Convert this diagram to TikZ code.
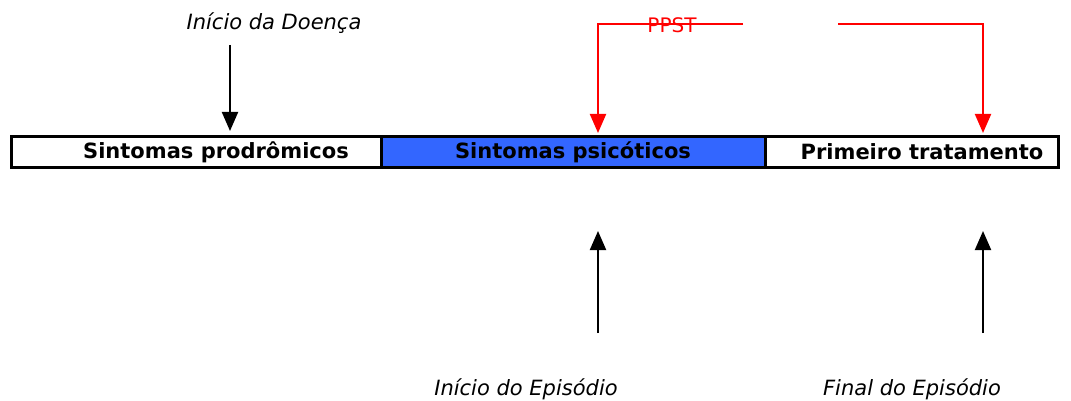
\documentclass[tikz,border=0pt]{standalone}
\usepackage{fontspec}
\setmainfont{DejaVu Sans}
\usetikzlibrary{arrows.meta}
\definecolor{boxblue}{HTML}{3366FF}
\definecolor{ppred}{HTML}{FF0000}
\tikzset{
  x=1pt,y=-1pt,
  seg/.style={draw=black,line width=2.8pt,minimum height=31pt,inner sep=0pt,anchor=north west},
  seglabel/.style={font=\fontsize{21}{24}\selectfont\bfseries,inner sep=0pt},
  note/.style={font=\fontsize{21}{24}\selectfont\itshape,inner sep=0pt},
  tip/.style={-{Triangle[length=19pt,width=16pt]}},
  blackarrow/.style={line width=2pt,tip},
  redarrow/.style={draw=ppred,line width=2pt,tip},
}
\begin{document}
\begin{tikzpicture}
\useasboundingbox (0,0) rectangle (1071,401);
% bar segments
\node[seg,fill=white,minimum width=370pt] (b1) at (10,135) {};
\node[seg,fill=boxblue,minimum width=384pt] (b2) at (380,135) {};
\node[seg,fill=white,minimum width=293pt] (b3) at (764,135) {};
\node[seglabel] (t1) at (216,152) {Sintomas prodrômicos};
\node[seglabel] (t2) at (573,152) {Sintomas psicóticos};
\node[seglabel] (t3) at (922,152) {Primeiro tratamento};
% top black arrow
\node[note] (inicio) at (274,23) {Início da Doença};
\coordinate (a1s) at (230,45);
\coordinate (a1e) at (230,131);
\draw[blackarrow] (a1s) -- (a1e);
% PPST
\node[font=\fontsize{20}{22}\selectfont,text=ppred,inner sep=0pt] (ppst) at (672,25) {PPST};
\coordinate (pl) at (743,24);
\coordinate (pr) at (838,24);
\coordinate (p1) at (598,133);
\coordinate (p2) at (983,133);
\draw[redarrow] (pl) -| (p1);
\draw[redarrow] (pr) -| (p2);
% bottom arrows
\coordinate (u1s) at (598,333);
\coordinate (u1e) at (598,231);
\coordinate (u2s) at (983,333);
\coordinate (u2e) at (983,231);
\draw[blackarrow] (u1s) -- (u1e);
\draw[blackarrow] (u2s) -- (u2e);
\node[note] (iep) at (526,389) {Início do Episódio};
\node[note] (fep) at (912,389) {Final do Episódio};
\end{tikzpicture}
\end{document}
